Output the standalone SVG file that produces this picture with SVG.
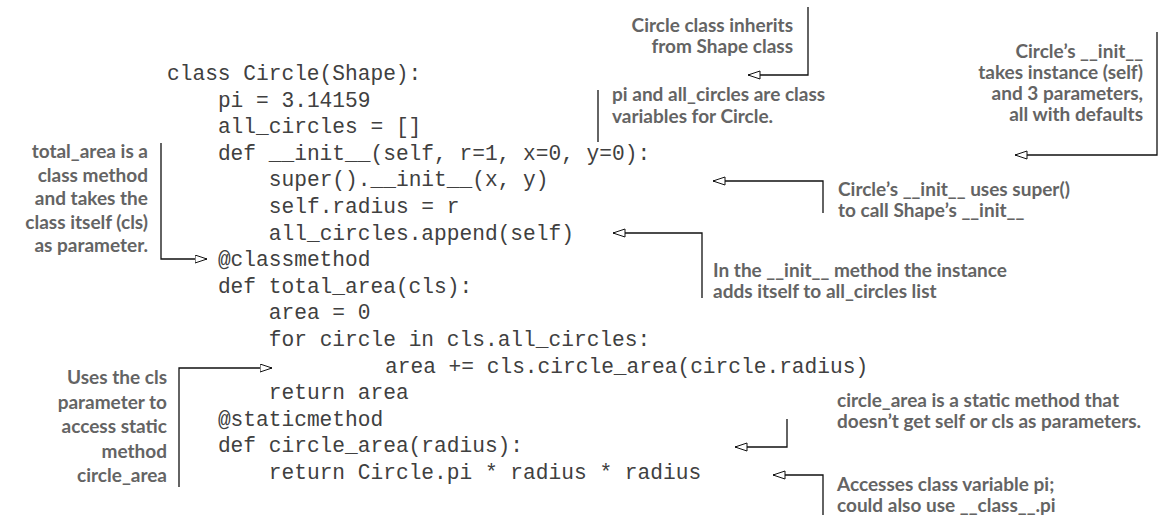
<svg xmlns="http://www.w3.org/2000/svg" width="1158" height="523" viewBox="0 0 1158 523">
<defs>
<style>
.code{font-family:"Liberation Mono","Courier New",monospace;font-size:21.2px;fill:#404040;}
.note{font-family:Lato,"Open Sans","Liberation Sans",sans-serif;font-weight:bold;font-size:19px;fill:#646464;}
.r{text-anchor:end;}
.conn{fill:none;stroke:#111;stroke-width:1.3;}
</style>
<marker id="arr" markerUnits="userSpaceOnUse" markerWidth="14" markerHeight="10" refX="12.5" refY="4.5" orient="auto">
<path d="M0.5,0.5 L12.5,4.5 L0.5,8.5 z" fill="#fff" stroke="#111" stroke-width="1"/>
</marker>
</defs>
<rect width="1158" height="523" fill="#fff"/>
<g id="code">
<text class="code" x="167" y="80">class Circle(Shape):</text>
<text class="code" x="217.9" y="106.6">pi = 3.14159</text>
<text class="code" x="217.9" y="133.2">all_circles = []</text>
<text class="code" x="217.9" y="159.8">def __init__(self, r=1, x=0, y=0):</text>
<text class="code" x="268.8" y="186.4">super().__init__(x, y)</text>
<text class="code" x="268.8" y="213">self.radius = r</text>
<text class="code" x="268.8" y="239.6">all_circles.append(self)</text>
<text class="code" x="217.9" y="266.2">@classmethod</text>
<text class="code" x="217.9" y="292.8">def total_area(cls):</text>
<text class="code" x="268.8" y="319.4">area = 0</text>
<text class="code" x="268.8" y="346">for circle in cls.all_circles:</text>
<text class="code" x="385" y="372.6">area += cls.circle_area(circle.radius)</text>
<text class="code" x="268.8" y="399.2">return area</text>
<text class="code" x="217.9" y="425.8">@staticmethod</text>
<text class="code" x="217.9" y="452.4">def circle_area(radius):</text>
<text class="code" x="268.8" y="479">return Circle.pi * radius * radius</text>
</g>
<g id="note-inherits">
<text class="note r" x="793" y="32">Circle class inherits</text>
<text class="note r" x="793" y="53">from Shape class</text>
</g>
<g id="note-classvars">
<text class="note" x="612" y="101">pi and all_circles are class</text>
<text class="note" x="612" y="123">variables for Circle.</text>
</g>
<g id="note-init">
<text class="note r" x="1143" y="57.5">Circle’s __init__</text>
<text class="note r" x="1143" y="78.8">takes instance (self)</text>
<text class="note r" x="1143" y="100.1">and 3 parameters,</text>
<text class="note r" x="1143" y="121.4">all with defaults</text>
</g>
<g id="note-super">
<text class="note" x="838" y="196">Circle’s __init__ uses super()</text>
<text class="note" x="838" y="217">to call Shape’s __init__</text>
</g>
<g id="note-append">
<text class="note" x="713" y="277">In the __init__ method the instance</text>
<text class="note" x="713" y="298">adds itself to all_circles list</text>
</g>
<g id="note-classmethod">
<text class="note r" x="148" y="158">total_area is a</text>
<text class="note r" x="148" y="181.5">class method</text>
<text class="note r" x="148" y="205">and takes the</text>
<text class="note r" x="148" y="228.5">class itself (cls)</text>
<text class="note r" x="148" y="252">as parameter.</text>
</g>
<g id="note-cls">
<text class="note r" x="167" y="384">Uses the cls</text>
<text class="note r" x="167" y="408.5">parameter to</text>
<text class="note r" x="167" y="433">access static</text>
<text class="note r" x="167" y="457.5">method</text>
<text class="note r" x="167" y="482">circle_area</text>
</g>
<g id="note-static">
<text class="note" x="837" y="407">circle_area is a static method that</text>
<text class="note" x="837" y="428">doesn’t get self or cls as parameters.</text>
</g>
<g id="note-pi">
<text class="note" x="837" y="491">Accesses class variable pi;</text>
<text class="note" x="837" y="512">could also use __class__.pi</text>
</g>
<g id="connectors">
<polyline class="conn" points="808,7 808,75 748,75" marker-end="url(#arr)"/>
<line class="conn" x1="598" y1="90" x2="598" y2="142"/>
<polyline class="conn" points="1157,32 1157,155 1015,155" marker-end="url(#arr)"/>
<polyline class="conn" points="823,213 823,181 713,181" marker-end="url(#arr)"/>
<polyline class="conn" points="702,298 702,233 613,233" marker-end="url(#arr)"/>
<polyline class="conn" points="161,143 161,259 207,259" marker-end="url(#arr)"/>
<polyline class="conn" points="179,487 179,368 272,368" marker-end="url(#arr)"/>
<polyline class="conn" points="787,419 787,447 735,447" marker-end="url(#arr)"/>
<polyline class="conn" points="823,515 823,475 773,475" marker-end="url(#arr)"/>
</g>
</svg>
